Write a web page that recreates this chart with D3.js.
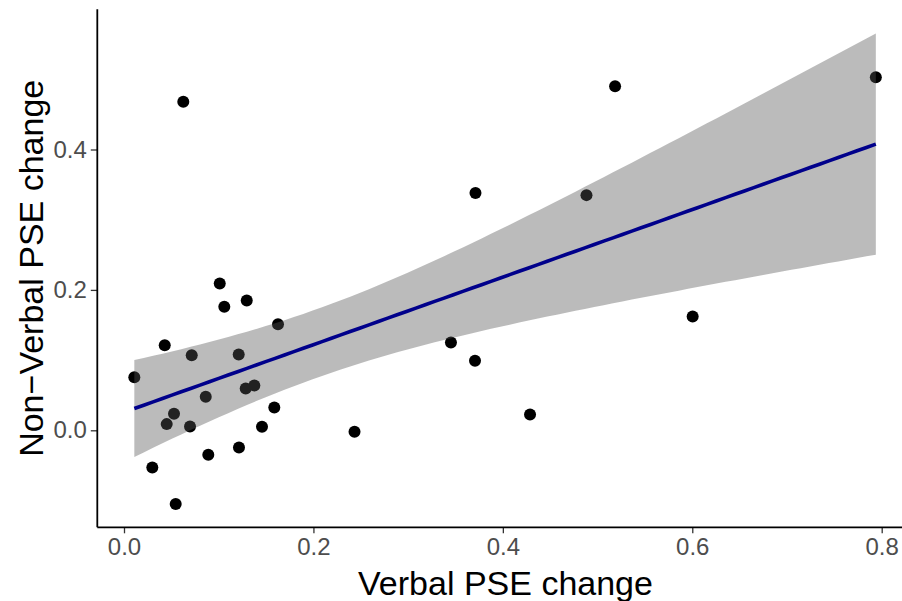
<!DOCTYPE html>
<html>
<head>
<meta charset="utf-8">
<script src="https://cdn.jsdelivr.net/npm/d3@7"></script>
<style>
  html, body { margin: 0; padding: 0; background: #fff; }
  svg { display: block; font-family: "Liberation Sans", Arial, Helvetica, sans-serif; }
</style>
</head>
<body>
<svg id="chart" width="902" height="601"></svg>
<script>
// Data
const verbal = [0.0109, 0.0299, 0.0430, 0.0451, 0.0528, 0.0546, 0.0626, 0.0697, 0.0715, 0.0863,
                0.0890, 0.1011, 0.1059, 0.1211, 0.1214, 0.1296, 0.1285, 0.1376, 0.1457, 0.1587,
                0.1626, 0.2434, 0.3452, 0.3711, 0.3706, 0.4287, 0.4883, 0.5185, 0.6004, 0.7938];
const nonVerbal = [0.0757, -0.053, 0.121, 0.0088, 0.0235, -0.105, 0.468, 0.0054, 0.107, 0.0477,
                   -0.0349, 0.209, 0.176, 0.108, -0.0245, 0.185, 0.0595, 0.0637, 0.005, 0.0324,
                   0.151, -0.002, 0.125, 0.338, 0.099, 0.0225, 0.335, 0.490, 0.162, 0.503];
const xTicks = [0.0, 0.2, 0.4, 0.6, 0.8];
const yTicks = [0.0, 0.2, 0.4];
const xTitle = "Verbal PSE change";
const yTitle = "Non\u2212Verbal PSE change";
const tCrit = 2.048407; // qt(0.975, df = 28)

const svg = d3.select("#chart");
const panel = { left: 97.3, right: 902, top: 9.3, bottom: 527.3 };

const x = d3.scaleLinear().domain([0, 0.8]).range([124, 881.7]);
const y = d3.scaleLinear().domain([0, 0.4]).range([430.3, 149.5]);

// linear model (as geom_smooth(method = "lm"))
const n = verbal.length;
const xbar = d3.mean(verbal), ybar = d3.mean(nonVerbal);
let sxx = 0, sxy = 0;
for (let i = 0; i < n; i++) {
  sxx += (verbal[i] - xbar) ** 2;
  sxy += (verbal[i] - xbar) * (nonVerbal[i] - ybar);
}
const slope = sxy / sxx, intercept = ybar - slope * xbar;
let sse = 0;
for (let i = 0; i < n; i++) sse += (nonVerbal[i] - intercept - slope * verbal[i]) ** 2;
const sRes = Math.sqrt(sse / (n - 2));
const [xmin, xmax] = d3.extent(verbal);
const fit = d3.range(80).map(k => {
  const xv = xmin + (xmax - xmin) * k / 79;
  const yv = intercept + slope * xv;
  const se = sRes * Math.sqrt(1 / n + (xv - xbar) ** 2 / sxx);
  return { x: xv, y: yv, lo: yv - tCrit * se, hi: yv + tCrit * se };
});

// points
svg.append("g").selectAll("circle")
  .data(verbal.map((v, i) => [v, nonVerbal[i]]))
  .join("circle")
  .attr("cx", d => x(d[0]))
  .attr("cy", d => y(d[1]))
  .attr("r", 6)
  .attr("fill", "#000");

// ribbon
svg.append("path")
  .datum(fit)
  .attr("d", d3.area().x(d => x(d.x)).y0(d => y(d.lo)).y1(d => y(d.hi)))
  .attr("fill", "#555555")
  .attr("fill-opacity", 0.4);

// fitted line
svg.append("path")
  .datum(fit)
  .attr("d", d3.line().x(d => x(d.x)).y(d => y(d.y)))
  .attr("fill", "none")
  .attr("stroke", "#00008B")
  .attr("stroke-width", 3.6);

// axes
const xAxis = svg.append("g")
  .attr("transform", `translate(0,${panel.bottom})`)
  .call(d3.axisBottom(x).tickValues(xTicks).tickFormat(d3.format(".1f")).tickSize(6).tickPadding(5).tickSizeOuter(0));
const yAxis = svg.append("g")
  .attr("transform", `translate(${panel.left},0)`)
  .call(d3.axisLeft(y).tickValues(yTicks).tickFormat(d3.format(".1f")).tickSize(6.5).tickPadding(4).tickSizeOuter(0));

[xAxis, yAxis].forEach(g => {
  g.select(".domain").remove();
  g.selectAll(".tick line").attr("stroke", "#333333").attr("stroke-width", 1.3);
  g.selectAll(".tick text").attr("fill", "#4D4D4D").style("font-size", "24px")
    .style("font-family", '"Liberation Sans", Arial, sans-serif');
});

svg.append("line")
  .attr("x1", panel.left).attr("x2", panel.right)
  .attr("y1", panel.bottom).attr("y2", panel.bottom)
  .attr("stroke", "#000").attr("stroke-width", 1.8);
svg.append("line")
  .attr("x1", panel.left).attr("x2", panel.left)
  .attr("y1", panel.top).attr("y2", panel.bottom)
  .attr("stroke", "#000").attr("stroke-width", 1.8);

// titles
svg.append("text")
  .attr("x", 505.5).attr("y", 595)
  .attr("text-anchor", "middle")
  .style("font-size", "34px").attr("fill", "#000")
  .text(xTitle);
svg.append("text")
  .attr("transform", `translate(43,${(panel.top + panel.bottom) / 2}) rotate(-90)`)
  .attr("text-anchor", "middle")
  .style("font-size", "34px").attr("fill", "#000")
  .text(yTitle);
</script>
</body>
</html>
